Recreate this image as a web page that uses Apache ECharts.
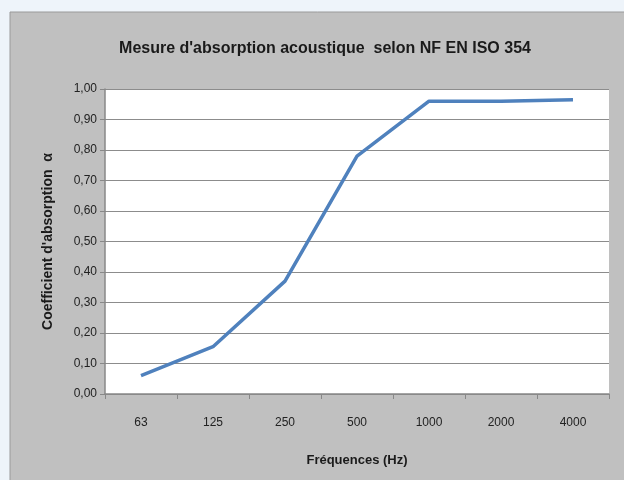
<!DOCTYPE html>
<html><head><meta charset="utf-8">
<script src="https://cdn.jsdelivr.net/npm/echarts@6/dist/echarts.min.js"></script>
<style>html,body{margin:0;padding:0;background:#eef4fa}#c{width:624px;height:480px}</style>
</head><body><div id="c"></div>
<script>
const categories = ['63','125','250','500','1000','2000','4000'];
const values = [0.06, 0.155, 0.37, 0.78, 0.96, 0.96, 0.965];
const yTicks = [0,0.1,0.2,0.3,0.4,0.5,0.6,0.7,0.8,0.9,1.0];
const F = '"Liberation Sans Narrow", "Liberation Sans", sans-serif';
const chart = echarts.init(document.getElementById('c'));
chart.setOption({
  backgroundColor: '#eef4fa',
  animation: false,
  graphic: [{type:'rect', z:-10, shape:{x:10,y:12,width:640,height:500}, style:{fill:'#c0c0c0', stroke:'#9a9a9a', lineWidth:1}}],
  title: {text:"Mesure d'absorption acoustique  selon NF EN ISO 354", left:320, top:36, textAlign:'center',
    textStyle:{fontFamily:F, fontSize:16, fontWeight:'bold', color:'#1a1a1a'}},
  grid: {left:105, top:89, right:15, bottom:86, show:true, backgroundColor:'#ffffff', borderWidth:0},
  xAxis: {type:'category', data:categories, boundaryGap:true,
    name:'Fréquences (Hz)', nameLocation:'middle', nameGap:60,
    nameTextStyle:{fontFamily:F, fontSize:13, fontWeight:'bold', color:'#1a1a1a'},
    axisLine:{lineStyle:{color:'#888', width:1.5}},
    axisTick:{show:true, length:5, lineStyle:{color:'#888'}},
    axisLabel:{fontFamily:F, fontSize:12, color:'#222', margin:23}},
  yAxis: {type:'value', min:0, max:1, interval:0.1,
    name:"Coefficient d'absorption  α", nameLocation:'middle', nameGap:50,
    nameTextStyle:{fontFamily:F, fontSize:14, fontWeight:'bold', color:'#1a1a1a'},
    axisLine:{show:true, lineStyle:{color:'#888', width:1.5}},
    axisTick:{show:true, length:5, lineStyle:{color:'#888'}},
    splitLine:{lineStyle:{color:'#8c8c8c', width:1.2}},
    axisLabel:{fontFamily:F, fontSize:12, color:'#222', margin:8,
      formatter: v => v.toFixed(2).replace('.', ',')}},
  series: [{type:'line', data:values, symbol:'none', lineStyle:{color:'#4f81bd', width:3.5}}]
});
</script></body></html>
